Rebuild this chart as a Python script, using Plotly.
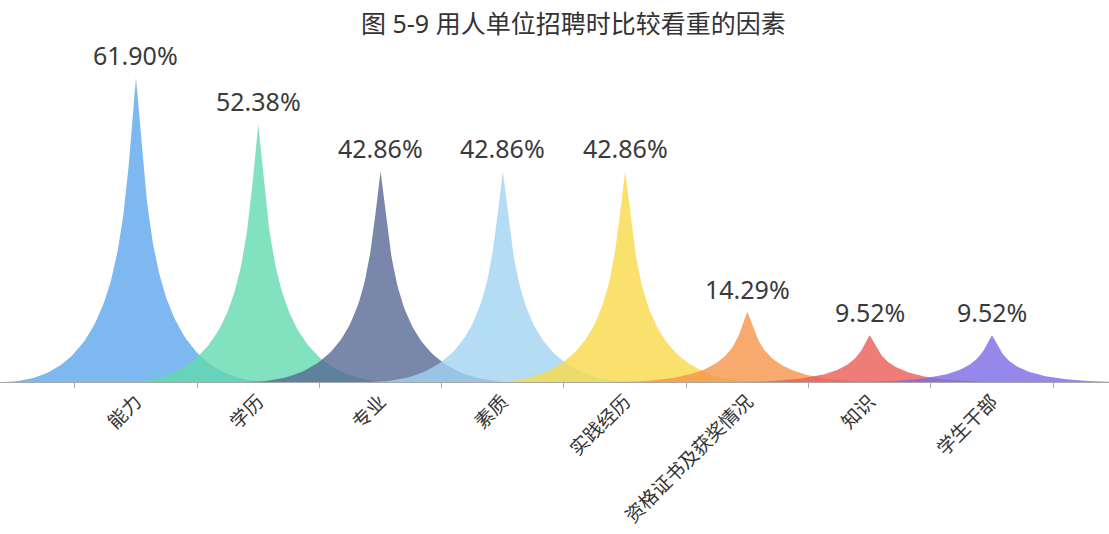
import numpy as np
import plotly.graph_objects as go

# data
categories = ['能力', '学历', '专业', '素质', '实践经历', '资格证书及获奖情况', '知识', '学生干部']
percents = [61.90, 52.38, 42.86, 42.86, 42.86, 14.29, 9.52, 9.52]
colors = ['#5ca7ec', '#63d9ae', '#566995', '#a1d3f2', '#f9d94a', '#f6954a', '#ea5c56', '#7c69e6']

title = '图 5-9 用人单位招聘时比较看重的因素'
font_family = 'Noto Sans, Noto Sans CJK SC, sans-serif'


def peak_outline(center, value, half_width=1.1, n=60):
    # ECharts style "peak" symbol: two cubic bezier flanks meeting at the top
    t = np.linspace(0, 1, n)

    def bez(p0, p1, p2, p3):
        return ((1 - t) ** 3 * p0 + 3 * (1 - t) ** 2 * t * p1
                + 3 * (1 - t) * t ** 2 * p2 + t ** 3 * p3)

    # left flank: base -> top, right flank: top -> base (unit coords)
    lx = bez(-1.0, -0.1, -0.1, 0.0)
    ly = bez(0.0, 0.0, 0.5, 1.0)
    rx = bez(0.0, 0.1, 0.1, 1.0)
    ry = bez(1.0, 0.5, 0.0, 0.0)
    xs = np.concatenate([lx, rx]) * half_width + center
    ys = np.concatenate([ly, ry]) * value
    return xs, ys


fig = go.Figure()

for i, (cat, val) in enumerate(zip(categories, percents)):
    xs, ys = peak_outline(i, val)
    fig.add_trace(go.Scatter(
        x=xs, y=ys,
        mode='lines',
        fill='toself',
        fillcolor=colors[i],
        line=dict(width=0, color=colors[i]),
        opacity=0.8,
        name=cat,
        hoverinfo='skip',
    ))
    fig.add_annotation(
        x=i, y=val,
        text=f'{val:.2f}%',
        showarrow=False,
        yanchor='bottom',
        yshift=4,
        font=dict(size=25, color='#3a3a3a', family=font_family),
    )

fig.update_layout(
    width=1109,
    height=534,
    title=dict(
        text=title,
        x=0.517, xanchor='center',
        y=0.955, yanchor='middle', yref='container',
        font=dict(size=25, color='#333333', family=font_family),
    ),
    margin=dict(l=0, r=0, t=50, b=152, autoexpand=False),
    plot_bgcolor='white',
    paper_bgcolor='white',
    showlegend=False,
    xaxis=dict(
        range=[-1.112, 7.957],
        tickmode='array',
        tickvals=list(range(len(categories))),
        ticktext=categories,
        tickangle=-45,
        ticks='',
        tickfont=dict(size=19, color='#333333', family=font_family),
        showgrid=False,
        zeroline=False,
        showline=True,
        linecolor='#a8a8a8',
        linewidth=1,
        automargin=False,
        minor=dict(tickmode='linear', tick0=-0.5, dtick=1, ticks='outside',
                   ticklen=5, tickcolor='#a8a8a8', showgrid=False),
    ),
    yaxis=dict(
        range=[0, 67.5],
        visible=False,
        showgrid=False,
        zeroline=False,
    ),
)

# the page body has a default 8px margin; drop it so the figure fills the window
fig.write_html('out.html', config={'displayModeBar': False},
               post_script="document.body.style.margin='0';")
